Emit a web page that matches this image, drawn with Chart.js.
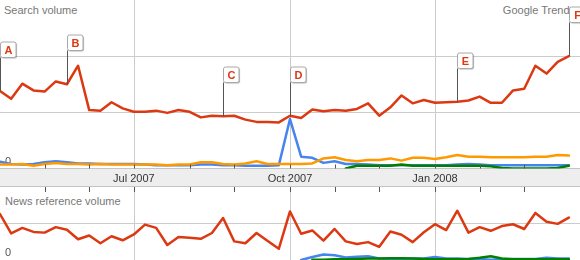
<!DOCTYPE html>
<html><head><meta charset="utf-8">
<script src="https://cdn.jsdelivr.net/npm/chart.js@4.4.1/dist/chart.umd.min.js"></script>
<style>
html,body{margin:0;padding:0;background:#fff;overflow:hidden;}
#wrap{position:relative;width:580px;height:260px;overflow:hidden;font-family:"Liberation Sans",Arial,sans-serif;}
.t{position:absolute;font-size:11px;color:#777;line-height:13px;white-space:nowrap;z-index:0}
canvas{position:absolute;left:0;z-index:1}
</style></head><body>
<div id="wrap">
<div class="t" style="left:4px;top:4px">Search volume</div>
<div class="t" style="right:5px;top:4px">Google Trends</div>
<div class="t" style="left:5px;top:195px">News reference volume</div>
<canvas id="c1" width="580" height="187" style="top:0;width:580px;height:187px"></canvas>
<canvas id="c2" width="580" height="73" style="top:187px;width:580px;height:73px"></canvas>
</div>
<script>
// Weekly values, week 0 = first week of April 2007 (52 weeks)
const searchRed = [1.38,1.24,1.51,1.39,1.37,1.55,1.50,1.83,1.04,1.03,1.18,1.07,1.01,1.01,1.03,0.99,1.04,1.01,0.91,0.94,0.93,0.94,0.87,0.83,0.83,0.82,0.94,0.90,1.05,1.02,1.04,1.03,1.06,1.16,0.94,1.09,1.30,1.16,1.22,1.17,1.18,1.19,1.21,1.28,1.17,1.17,1.39,1.42,1.83,1.69,1.90,2.00];
const searchBlue = [0.12,0.08,0.07,0.08,0.11,0.13,0.11,0.09,0.09,0.08,0.08,0.08,0.08,0.07,0.06,0.06,0.06,0.06,0.07,0.07,0.06,0.06,0.05,0.05,0.05,0.06,0.88,0.21,0.19,0.10,0.13,0.08,0.08,0.07,0.06,0.06,0.06,0.06,0.06,0.06,0.06,0.07,0.08,0.07,0.06,0.06,0.06,0.06,0.06,0.06,0.06,0.06];
const searchOrange = [0.07,0.07,0.08,0.05,0.08,0.10,0.08,0.08,0.07,0.08,0.07,0.07,0.07,0.07,0.07,0.06,0.07,0.07,0.11,0.11,0.08,0.07,0.09,0.13,0.08,0.08,0.08,0.08,0.09,0.18,0.20,0.15,0.13,0.15,0.15,0.18,0.14,0.19,0.19,0.17,0.20,0.24,0.21,0.21,0.20,0.20,0.20,0.20,0.21,0.21,0.24,0.23];
const searchGreen = [null,null,null,null,null,null,null,null,null,null,null,null,null,null,null,null,null,null,null,null,null,null,null,null,null,null,null,null,null,null,null,0.00,0.05,0.05,0.05,0.05,0.07,0.05,0.05,0.05,0.05,0.05,0.05,0.05,0.04,0.01,0.00,0.00,0.00,0.00,0.01,0.05];
const newsRed = [1.26,0.73,0.88,0.77,0.75,0.90,0.83,0.57,0.67,0.46,0.65,0.54,0.70,0.97,0.88,0.41,0.63,0.61,0.58,0.74,1.15,0.51,0.46,0.74,0.52,0.31,1.33,0.72,0.81,0.53,0.85,0.51,0.44,0.49,0.36,0.78,0.69,0.49,0.76,0.98,0.82,1.35,0.75,0.90,0.80,0.93,0.98,0.85,1.29,1.05,0.99,1.16];
const newsBlue = [null,null,null,null,null,null,null,null,null,null,null,null,null,null,null,null,null,null,null,null,null,null,null,null,null,null,null,0.00,0.08,0.15,0.13,0.07,0.09,0.10,0.04,0.03,0.03,0.04,0.04,0.08,0.04,0.04,0.03,0.03,0.01,0.02,0.03,0.03,0.03,0.06,0.04,0.04];
const newsGreen = [null,null,null,null,null,null,null,null,null,null,null,null,null,null,null,null,null,null,null,null,null,null,null,null,null,null,null,null,0.01,0.01,0.02,0.02,0.03,0.04,0.04,0.05,0.05,0.04,0.03,0.02,0.02,0.02,0.03,0.06,0.10,0.04,0.02,0.02,0.02,0.02,0.02,0.02];
const monthTickWeeks = [4,8,12,17,21,26,30,34,39,43,47];
const monthTickLabels = ['','','Jul 2007','','','Oct 2007','','','Jan 2008','',''];
const flagLetters = ['A','B','C','D','E','F'];
const flagWeeks = [0,6,20,26,41,51];
const weekCount = 52;

const RED='#dc3912', BLUE='#4684ee', ORANGE='#ff9900', GREEN='#008000';
const FONT = {family:'"Liberation Sans", Arial, sans-serif', size:11};
const pts = arr => arr.map((v,i)=>({x:i, y:v}));
const labelFor = v => { const k = monthTickWeeks.indexOf(v); return k<0 ? '' : monthTickLabels[k]; };
const zeroPad = s => { s.paddingTop=0; s.paddingBottom=0; s.paddingLeft=0; s.paddingRight=0; };

function ds(data, color, order){
  return {data:pts(data), borderColor:color, backgroundColor:color, borderWidth:2.5, pointRadius:0, tension:0, fill:false, order, spanGaps:false, borderJoinStyle:'round', borderCapStyle:'round'};
}
function xScale(showLabels){
  return {type:'linear', min:0, max:weekCount, display:true, offset:false,
    afterBuildTicks: s => { s.ticks = monthTickWeeks.map(v=>({value:v})); },
    afterFit: s => { s.height = showLabels ? 18.5 : 0; zeroPad(s); },
    ticks:{display:showLabels, autoSkip:false, maxRotation:0, minRotation:0, padding:4, color:'#333', font:FONT, callback:v=>labelFor(v)},
    grid:{drawTicks:false, offset:false, color:'rgba(0,0,0,0)'},
    border:{display:false}
  };
}
function yScale(max){
  return {type:'linear', min:0, max, display:true, position:'left',
    afterFit: s => { s.width = 0; zeroPad(s); },
    afterBuildTicks: s => { const t=[]; for(let i=0;i<=max;i++) t.push({value:i}); s.ticks=t; },
    ticks:{mirror:true, padding:5, labelOffset:-7, color:'#555', font:FONT, callback:v => v===0 ? '0' : ''},
    grid:{drawTicks:false, color: c => (c.tick.value>0 && c.tick.value<max) ? '#cccccc' : (c.tick.value===0 ? '#c4c4c4' : 'rgba(0,0,0,0)')},
    border:{display:false}
  };
}
const baseOpts = (max, showLabels) => ({
  responsive:false, animation:false, devicePixelRatio:1,
  layout:{padding:0, autoPadding:false},
  plugins:{legend:{display:false}, tooltip:{enabled:false}},
  scales:{x:xScale(showLabels), y:yScale(max)}
});

// vertical grid lines at labelled month ticks
const vGridPlugin = {id:'vgrid',
  beforeDatasetsDraw(chart){
    const {ctx, chartArea:a, scales:{x}} = chart;
    ctx.save(); ctx.strokeStyle='#cccccc'; ctx.lineWidth=1;
    monthTickWeeks.forEach(v=>{ if(!labelFor(v)) return;
      const px=Math.round(x.getPixelForValue(v))+0.5;
      ctx.beginPath(); ctx.moveTo(px, a.top); ctx.lineTo(px, a.bottom); ctx.stroke(); });
    ctx.restore();
  }
};
const bandPlugin = {id:'band',
  beforeDraw(chart){
    const {ctx, chartArea:a} = chart;
    ctx.save();
    ctx.fillStyle='#eeeeee';
    ctx.fillRect(0, a.bottom, chart.width, chart.height - a.bottom);
    ctx.strokeStyle='#c4c4c4'; ctx.lineWidth=1;
    ctx.beginPath(); ctx.moveTo(0, chart.height-0.5); ctx.lineTo(chart.width, chart.height-0.5); ctx.stroke();
    ctx.restore();
  },
  afterDraw(chart){
    const {ctx, chartArea:a, scales:{x}} = chart;
    ctx.save(); ctx.strokeStyle='#555'; ctx.lineWidth=1;
    monthTickWeeks.forEach(v=>{ const px=Math.round(x.getPixelForValue(v))+0.5;
      ctx.beginPath(); ctx.moveTo(px, a.bottom-4); ctx.lineTo(px, a.bottom); ctx.stroke(); });
    ctx.restore();
  }
};
const topTickPlugin = {id:'topticks',
  afterDraw(chart){
    const {ctx, chartArea:a, scales:{x}} = chart;
    ctx.save(); ctx.strokeStyle='#555'; ctx.lineWidth=1;
    monthTickWeeks.forEach(v=>{ const px=Math.round(x.getPixelForValue(v))+0.5;
      ctx.beginPath(); ctx.moveTo(px, a.top); ctx.lineTo(px, a.top+5); ctx.stroke(); });
    ctx.restore();
  }
};
const flagPlugin = {id:'flags',
  afterDraw(chart){
    const {ctx, scales:{x,y}} = chart;
    ctx.save();
    flagWeeks.forEach((w,k)=>{
      const px = Math.round(x.getPixelForValue(w))+0.5;
      const py = y.getPixelForValue(searchRed[w]);
      const boxB = Math.round(py-34)+0.5, boxT = boxB-15.5;
      ctx.strokeStyle='#555'; ctx.lineWidth=1;
      ctx.beginPath(); ctx.moveTo(px, py); ctx.lineTo(px, boxB); ctx.stroke();
      ctx.save();
      ctx.shadowColor='rgba(0,0,0,0.3)'; ctx.shadowOffsetX=1; ctx.shadowOffsetY=1; ctx.shadowBlur=1;
      ctx.fillStyle='#fff';
      ctx.beginPath(); ctx.roundRect(px, boxT, 15.5, 15.5, 2); ctx.fill();
      ctx.restore();
      ctx.strokeStyle='#a8a8a8';
      ctx.beginPath(); ctx.roundRect(px, boxT, 15.5, 15.5, 2); ctx.stroke();
      ctx.fillStyle=RED; ctx.font='bold 11px "Liberation Sans", Arial, sans-serif';
      ctx.textAlign='center'; ctx.textBaseline='middle';
      ctx.fillText(flagLetters[k], px+8, boxT+8.5);
    });
    ctx.restore();
  }
};

new Chart(document.getElementById('c1'), {
  type:'line',
  data:{datasets:[ds(searchRed,RED,0), ds(searchGreen,GREEN,1), ds(searchOrange,ORANGE,2), ds(searchBlue,BLUE,3)]},
  options:baseOpts(3, true),
  plugins:[bandPlugin, vGridPlugin, flagPlugin]
});
new Chart(document.getElementById('c2'), {
  type:'line',
  data:{datasets:[ds(newsRed,RED,0), ds(newsGreen,GREEN,1), ds(newsBlue,BLUE,2)]},
  options:baseOpts(2, false),
  plugins:[vGridPlugin, topTickPlugin]
});
</script>
</body></html>
